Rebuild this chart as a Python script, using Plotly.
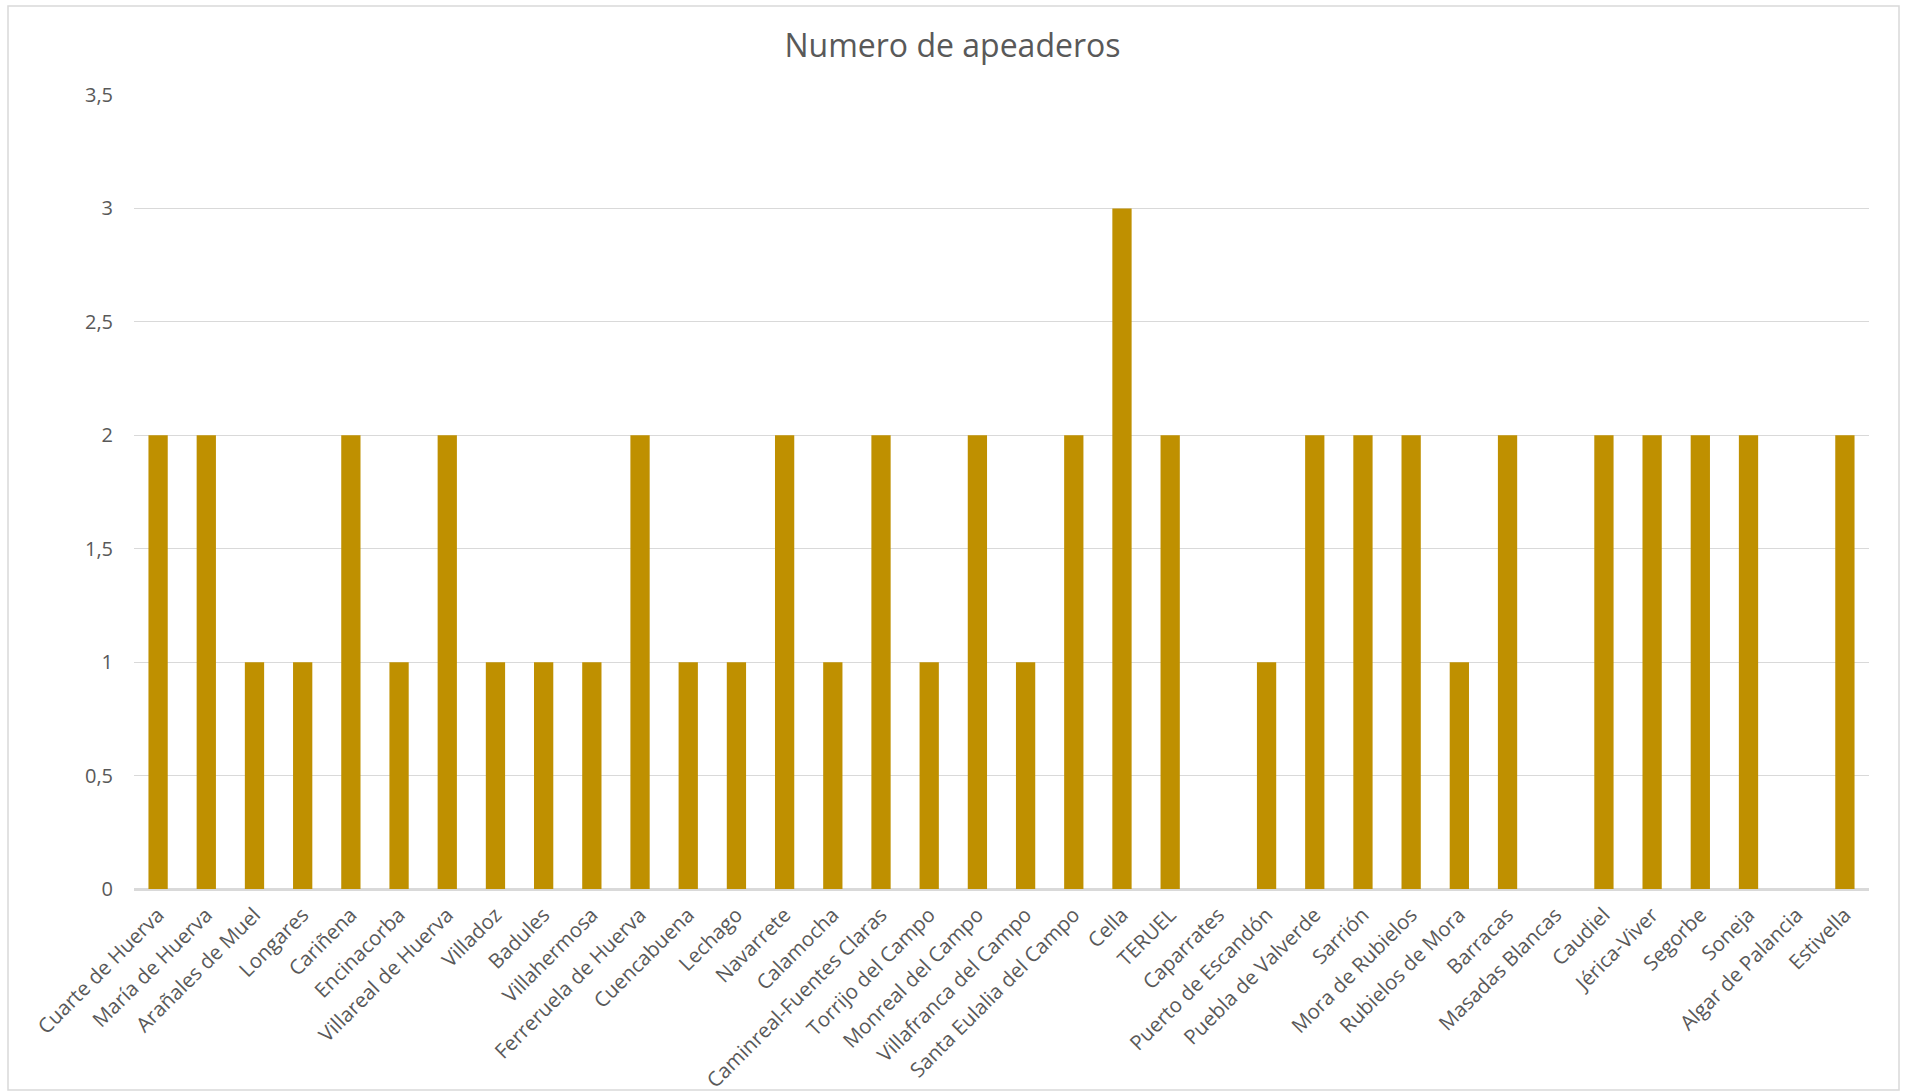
import plotly.graph_objects as go

# Stations along the line and number of halts at each one
estaciones = [
    "Cuarte de Huerva", "María de Huerva", "Arañales de Muel", "Longares",
    "Cariñena", "Encinacorba", "Villareal de Huerva", "Villadoz", "Badules",
    "Villahermosa", "Ferreruela de Huerva", "Cuencabuena", "Lechago",
    "Navarrete", "Calamocha", "Caminreal-Fuentes Claras", "Torrijo del Campo",
    "Monreal del Campo", "Villafranca del Campo", "Santa Eulalia del Campo",
    "Cella", "TERUEL", "Caparrates", "Puerto de Escandón", "Puebla de Valverde",
    "Sarrión", "Mora de Rubielos", "Rubielos de Mora", "Barracas",
    "Masadas Blancas", "Caudiel", "Jérica-Viver", "Segorbe", "Soneja",
    "Algar de Palancia", "Estivella",
]
apeaderos = [
    2, 2, 1, 1, 2, 1, 2, 1, 1, 1, 2, 1, 1, 2, 1, 2, 1, 2, 1, 2,
    3, 2, 0, 1, 2, 2, 2, 1, 2, 0, 2, 2, 2, 2, 0, 2,
]
y_ticks = [0, 0.5, 1, 1.5, 2, 2.5, 3, 3.5]

BAR = "#BF9000"
GRID = "#D9D9D9"
TXT = "#595959"
FONT = "Open Sans, Noto Sans, sans-serif"

fig = go.Figure(
    go.Bar(x=estaciones, y=apeaderos, marker=dict(color=BAR, line=dict(width=0)))
)

fig.update_layout(
    width=1905,
    height=1092,
    margin=dict(l=134, r=36, t=95, b=203, autoexpand=False),
    paper_bgcolor="white",
    plot_bgcolor="white",
    separators=",.",
    bargap=0.6,
    showlegend=False,
    font=dict(family=FONT, color=TXT, size=20),
    title=dict(
        text="Numero de apeaderos",
        x=0.5, xref="container", xanchor="center",
        y=1 - 46 / 1092, yref="container", yanchor="middle",
        font=dict(family=FONT, size=32, color=TXT),
    ),
    xaxis=dict(
        tickangle=-45,
        tickfont=dict(size=20.5, color=TXT),
        showgrid=False, automargin=False,
        showline=True, linecolor=GRID, linewidth=1.5,
        ticks="", ticklabelstandoff=4,
    ),
    yaxis=dict(
        range=[0, 3.5],
        tickvals=y_ticks,
        tickfont=dict(size=20, color=TXT),
        showgrid=True, gridcolor=GRID, gridwidth=1.3, automargin=False,
        zeroline=True, zerolinecolor=GRID, zerolinewidth=1.5,
        showline=False, ticks="", ticklabelstandoff=20,
    ),
    shapes=[
        dict(
            type="rect", xref="paper", yref="paper",
            x0=(8 - 134) / 1735, x1=(1899 - 134) / 1735,
            y0=(889 - 1090) / 794, y1=(889 - 6) / 794,
            line=dict(color=GRID, width=1.5), fillcolor="rgba(0,0,0,0)",
            layer="below",
        )
    ],
)

fig.write_html("out.html")
